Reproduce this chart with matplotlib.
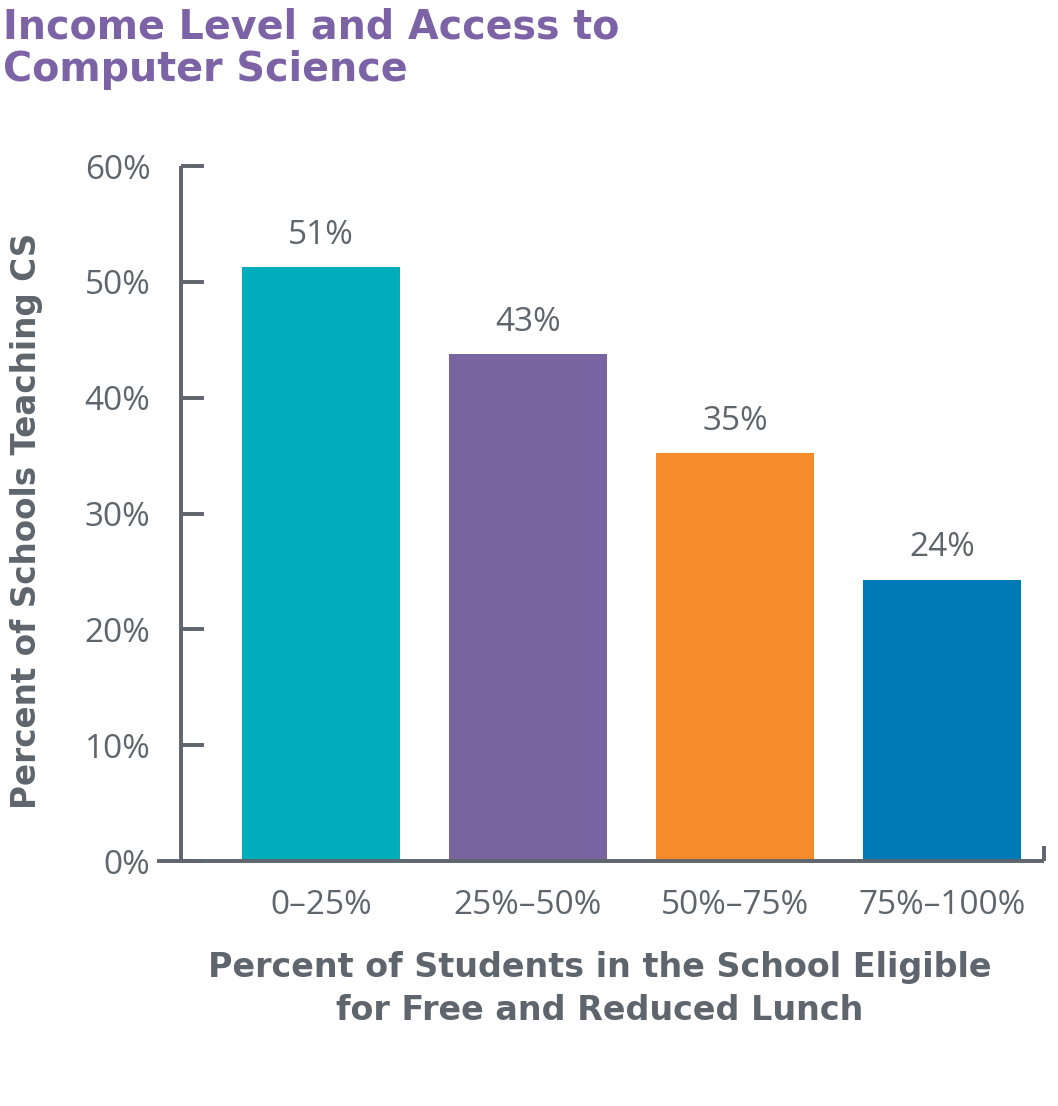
import matplotlib.pyplot as plt

# chart data
categories = ["0\u201325%", "25%\u201350%", "50%\u201375%", "75%\u2013100%"]
values = [51.3, 43.8, 35.2, 24.3]
value_labels = ["51%", "43%", "35%", "24%"]
yticks = [0, 10, 20, 30, 40, 50, 60]
ytick_labels = ["0%", "10%", "20%", "30%", "40%", "50%", "60%"]
colors = ["#00ADBB", "#7764A0", "#F68B2B", "#007AB6"]

GRAY = "#5E656C"
PURPLE = "#7B63A6"
LIGHT = ["Open Sans", "DejaVu Sans"]
BOLD = ["DejaVu Sans"]


def main():
    plt.rcParams["font.family"] = LIGHT
    fig = plt.figure(figsize=(10.58, 11.06), dpi=100)
    ax = fig.add_axes([0.1484, 0.2215, 0.8384, 0.6284])

    x = list(range(len(categories)))
    ax.bar(x, values, width=0.763, color=colors, zorder=2)
    for xi, v, lab in zip(x, values, value_labels):
        ax.text(xi, v + 1.3, lab, ha="center", va="bottom",
                fontsize=24, color=GRAY)

    ax.set_xlim(-0.792, 3.493)
    ax.set_ylim(0, 60)

    ax.spines["top"].set_visible(False)
    for side in ["left", "bottom", "right"]:
        ax.spines[side].set_color(GRAY)
        ax.spines[side].set_linewidth(2.8)
        ax.spines[side].set_capstyle("butt")
    ax.spines["left"].set_position(("data", -0.676))
    ax.spines["right"].set_bounds(0, 1.3)
    ax.spines["bottom"].set_zorder(3)

    ax.set_yticks(yticks)
    ax.set_yticklabels(ytick_labels)
    ax.tick_params(axis="y", direction="in", length=16.5, width=2.8,
                   color=GRAY, labelcolor=GRAY, labelsize=24, pad=22)

    ax.set_xticks(x)
    ax.set_xticklabels(categories)
    ax.tick_params(axis="x", length=0, labelcolor=GRAY, labelsize=24, pad=20)

    fig.text(0.025, 0.529, "Percent of Schools Teaching CS", rotation=90,
             ha="center", va="center", fontsize=23.5, fontweight="bold",
             color=GRAY, family=BOLD)
    fig.text(0.567, 0.106,
             "Percent of Students in the School Eligible\nfor Free and Reduced Lunch",
             ha="center", va="center", fontsize=24, fontweight="bold",
             color=GRAY, linespacing=1.4, family=BOLD)

    fig.text(0.003, 0.993, "Income Level and Access to\nComputer Science",
             ha="left", va="top", fontsize=28.5, fontweight="bold",
             color=PURPLE, linespacing=1.08, family=BOLD)

    fig.savefig("out.png", dpi=100)


if __name__ == "__main__":
    main()
